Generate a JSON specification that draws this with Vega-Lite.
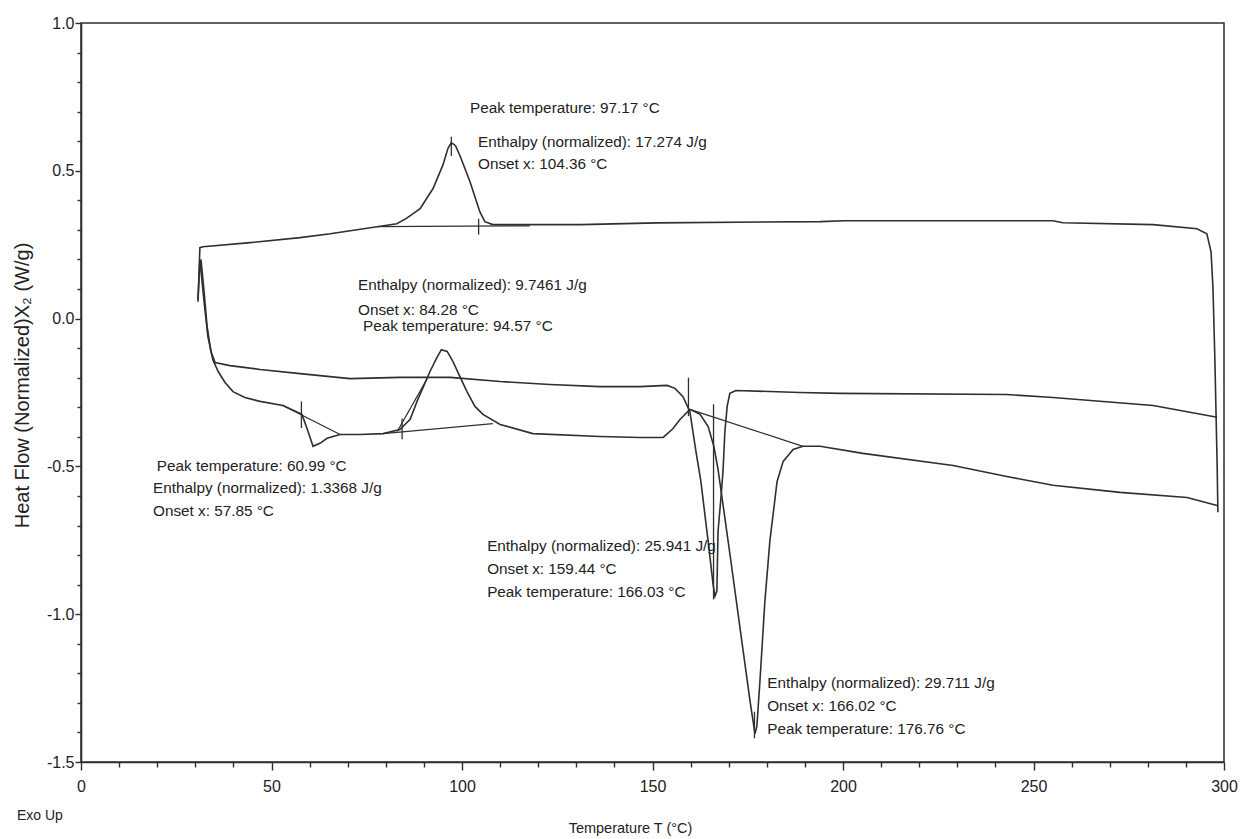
{
  "$schema": "https://vega.github.io/schema/vega-lite/v6.json",
  "width": 1143,
  "height": 739,
  "autosize": {"type": "none"},
  "padding": {"left": 81, "top": 23, "right": 16, "bottom": 77},
  "background": "white",
  "config": {
    "view": {"stroke": "#2e2e2e", "strokeWidth": 1.5},
    "font": "Liberation Sans",
    "axis": {"grid": false, "domainColor": "#2e2e2e", "domainWidth": 1.6, "tickColor": "#2e2e2e", "tickWidth": 1.4, "labelColor": "#222", "titleColor": "#222", "labelFont": "Liberation Sans", "titleFont": "Liberation Sans", "labelFontSize": 16, "labelFlush": false, "labelOverlap": false, "titleFontWeight": "normal"}
  },
  "datasets": {
    "curves": [
      {"s": "cool", "i": 1, "t": 298.4, "v": -0.655},
      {"s": "cool", "i": 2, "t": 298.2, "v": -0.497},
      {"s": "cool", "i": 3, "t": 297.6, "v": -0.135},
      {"s": "cool", "i": 4, "t": 297.1, "v": 0.105},
      {"s": "cool", "i": 5, "t": 296.6, "v": 0.226},
      {"s": "cool", "i": 6, "t": 295.5, "v": 0.287},
      {"s": "cool", "i": 7, "t": 292.9, "v": 0.304},
      {"s": "cool", "i": 8, "t": 281.4, "v": 0.318},
      {"s": "cool", "i": 9, "t": 257.7, "v": 0.324},
      {"s": "cool", "i": 10, "t": 255.1, "v": 0.331},
      {"s": "cool", "i": 11, "t": 200.5, "v": 0.331},
      {"s": "cool", "i": 12, "t": 194.0, "v": 0.328},
      {"s": "cool", "i": 13, "t": 151.2, "v": 0.324},
      {"s": "cool", "i": 14, "t": 131.0, "v": 0.318},
      {"s": "cool", "i": 15, "t": 112.6, "v": 0.318},
      {"s": "cool", "i": 16, "t": 108.1, "v": 0.318},
      {"s": "cool", "i": 17, "t": 106.0, "v": 0.328},
      {"s": "cool", "i": 18, "t": 104.7, "v": 0.361},
      {"s": "cool", "i": 19, "t": 102.1, "v": 0.463},
      {"s": "cool", "i": 20, "t": 99.5, "v": 0.55},
      {"s": "cool", "i": 21, "t": 98.3, "v": 0.585},
      {"s": "cool", "i": 22, "t": 97.2, "v": 0.595},
      {"s": "cool", "i": 23, "t": 96.3, "v": 0.575},
      {"s": "cool", "i": 24, "t": 95.0, "v": 0.52},
      {"s": "cool", "i": 25, "t": 92.4, "v": 0.44},
      {"s": "cool", "i": 26, "t": 89.0, "v": 0.372},
      {"s": "cool", "i": 27, "t": 85.5, "v": 0.34},
      {"s": "cool", "i": 28, "t": 82.9, "v": 0.321},
      {"s": "cool", "i": 29, "t": 77.7, "v": 0.311},
      {"s": "cool", "i": 30, "t": 65.4, "v": 0.287},
      {"s": "cool", "i": 31, "t": 57.5, "v": 0.274},
      {"s": "cool", "i": 32, "t": 44.4, "v": 0.257},
      {"s": "cool", "i": 33, "t": 32.0, "v": 0.243},
      {"s": "cool", "i": 34, "t": 31.2, "v": 0.24},
      {"s": "cool", "i": 35, "t": 31.0, "v": 0.159},
      {"s": "cool", "i": 36, "t": 30.7, "v": 0.064},

      {"s": "h1", "i": 1, "t": 30.7, "v": 0.057},
      {"s": "h1", "i": 2, "t": 31.2, "v": 0.2},
      {"s": "h1", "i": 3, "t": 32.3, "v": 0.057},
      {"s": "h1", "i": 4, "t": 33.3, "v": -0.061},
      {"s": "h1", "i": 5, "t": 34.6, "v": -0.139},
      {"s": "h1", "i": 6, "t": 36.0, "v": -0.179},
      {"s": "h1", "i": 7, "t": 37.8, "v": -0.216},
      {"s": "h1", "i": 8, "t": 39.9, "v": -0.247},
      {"s": "h1", "i": 9, "t": 43.0, "v": -0.267},
      {"s": "h1", "i": 10, "t": 47.0, "v": -0.28},
      {"s": "h1", "i": 11, "t": 53.0, "v": -0.294},
      {"s": "h1", "i": 12, "t": 58.0, "v": -0.324},
      {"s": "h1", "i": 13, "t": 59.6, "v": -0.382},
      {"s": "h1", "i": 14, "t": 60.9, "v": -0.432},
      {"s": "h1", "i": 15, "t": 62.7, "v": -0.422},
      {"s": "h1", "i": 16, "t": 64.6, "v": -0.405},
      {"s": "h1", "i": 17, "t": 68.0, "v": -0.392},
      {"s": "h1", "i": 18, "t": 73.2, "v": -0.392},
      {"s": "h1", "i": 19, "t": 79.3, "v": -0.389},
      {"s": "h1", "i": 20, "t": 83.7, "v": -0.375},
      {"s": "h1", "i": 21, "t": 86.4, "v": -0.341},
      {"s": "h1", "i": 22, "t": 88.2, "v": -0.28},
      {"s": "h1", "i": 23, "t": 91.6, "v": -0.179},
      {"s": "h1", "i": 24, "t": 93.4, "v": -0.132},
      {"s": "h1", "i": 25, "t": 94.6, "v": -0.105},
      {"s": "h1", "i": 26, "t": 96.1, "v": -0.111},
      {"s": "h1", "i": 27, "t": 97.6, "v": -0.145},
      {"s": "h1", "i": 28, "t": 101.3, "v": -0.247},
      {"s": "h1", "i": 29, "t": 103.4, "v": -0.297},
      {"s": "h1", "i": 30, "t": 105.5, "v": -0.324},
      {"s": "h1", "i": 31, "t": 110.0, "v": -0.358},
      {"s": "h1", "i": 32, "t": 118.6, "v": -0.389},
      {"s": "h1", "i": 33, "t": 136.2, "v": -0.399},
      {"s": "h1", "i": 34, "t": 146.7, "v": -0.402},
      {"s": "h1", "i": 35, "t": 152.8, "v": -0.402},
      {"s": "h1", "i": 36, "t": 155.4, "v": -0.372},
      {"s": "h1", "i": 37, "t": 157.2, "v": -0.341},
      {"s": "h1", "i": 38, "t": 159.8, "v": -0.307},
      {"s": "h1", "i": 39, "t": 162.5, "v": -0.324},
      {"s": "h1", "i": 40, "t": 164.6, "v": -0.365},
      {"s": "h1", "i": 41, "t": 166.1, "v": -0.432},
      {"s": "h1", "i": 42, "t": 167.2, "v": -0.51},
      {"s": "h1", "i": 43, "t": 168.2, "v": -0.601},
      {"s": "h1", "i": 44, "t": 170.4, "v": -0.804},
      {"s": "h1", "i": 45, "t": 173.0, "v": -1.05},
      {"s": "h1", "i": 46, "t": 175.6, "v": -1.294},
      {"s": "h1", "i": 47, "t": 176.9, "v": -1.405},
      {"s": "h1", "i": 48, "t": 177.4, "v": -1.378},
      {"s": "h1", "i": 49, "t": 178.2, "v": -1.226},
      {"s": "h1", "i": 50, "t": 179.5, "v": -0.956},
      {"s": "h1", "i": 51, "t": 180.8, "v": -0.753},
      {"s": "h1", "i": 52, "t": 182.7, "v": -0.551},
      {"s": "h1", "i": 53, "t": 184.3, "v": -0.483},
      {"s": "h1", "i": 54, "t": 186.9, "v": -0.443},
      {"s": "h1", "i": 55, "t": 189.5, "v": -0.432},
      {"s": "h1", "i": 56, "t": 194.0, "v": -0.432},
      {"s": "h1", "i": 57, "t": 205.2, "v": -0.456},
      {"s": "h1", "i": 58, "t": 228.9, "v": -0.497},
      {"s": "h1", "i": 59, "t": 243.0, "v": -0.534},
      {"s": "h1", "i": 60, "t": 255.1, "v": -0.564},
      {"s": "h1", "i": 61, "t": 272.7, "v": -0.588},
      {"s": "h1", "i": 62, "t": 290.3, "v": -0.605},
      {"s": "h1", "i": 63, "t": 298.2, "v": -0.632},

      {"s": "h2", "i": 1, "t": 31.5, "v": 0.2},
      {"s": "h2", "i": 2, "t": 32.3, "v": 0.091},
      {"s": "h2", "i": 3, "t": 33.1, "v": -0.027},
      {"s": "h2", "i": 4, "t": 34.1, "v": -0.111},
      {"s": "h2", "i": 5, "t": 35.2, "v": -0.149},
      {"s": "h2", "i": 6, "t": 39.1, "v": -0.159},
      {"s": "h2", "i": 7, "t": 47.0, "v": -0.172},
      {"s": "h2", "i": 8, "t": 57.5, "v": -0.186},
      {"s": "h2", "i": 9, "t": 70.6, "v": -0.203},
      {"s": "h2", "i": 10, "t": 83.7, "v": -0.199},
      {"s": "h2", "i": 11, "t": 96.9, "v": -0.199},
      {"s": "h2", "i": 12, "t": 110.0, "v": -0.213},
      {"s": "h2", "i": 13, "t": 123.1, "v": -0.223},
      {"s": "h2", "i": 14, "t": 136.2, "v": -0.23},
      {"s": "h2", "i": 15, "t": 146.7, "v": -0.23},
      {"s": "h2", "i": 16, "t": 153.8, "v": -0.226},
      {"s": "h2", "i": 17, "t": 155.9, "v": -0.236},
      {"s": "h2", "i": 18, "t": 158.0, "v": -0.264},
      {"s": "h2", "i": 19, "t": 159.8, "v": -0.314},
      {"s": "h2", "i": 20, "t": 161.4, "v": -0.449},
      {"s": "h2", "i": 21, "t": 162.7, "v": -0.551},
      {"s": "h2", "i": 22, "t": 164.6, "v": -0.753},
      {"s": "h2", "i": 23, "t": 165.9, "v": -0.899},
      {"s": "h2", "i": 24, "t": 166.4, "v": -0.939},
      {"s": "h2", "i": 25, "t": 166.9, "v": -0.922},
      {"s": "h2", "i": 26, "t": 167.2, "v": -0.72},
      {"s": "h2", "i": 27, "t": 168.0, "v": -0.601},
      {"s": "h2", "i": 28, "t": 168.5, "v": -0.517},
      {"s": "h2", "i": 29, "t": 169.0, "v": -0.382},
      {"s": "h2", "i": 30, "t": 169.6, "v": -0.297},
      {"s": "h2", "i": 31, "t": 170.3, "v": -0.253},
      {"s": "h2", "i": 32, "t": 171.9, "v": -0.243},
      {"s": "h2", "i": 33, "t": 188.7, "v": -0.25},
      {"s": "h2", "i": 34, "t": 199.2, "v": -0.253},
      {"s": "h2", "i": 35, "t": 243.0, "v": -0.257},
      {"s": "h2", "i": 36, "t": 255.1, "v": -0.267},
      {"s": "h2", "i": 37, "t": 281.4, "v": -0.294},
      {"s": "h2", "i": 38, "t": 298.2, "v": -0.334}
    ],
    "marks": [
      {"g": "a1", "t": 77.7, "v": 0.311}, {"g": "a1", "t": 117.8, "v": 0.314},
      {"g": "a2", "t": 97.2, "v": 0.55}, {"g": "a2", "t": 97.2, "v": 0.615},
      {"g": "a3", "t": 104.36, "v": 0.284}, {"g": "a3", "t": 104.36, "v": 0.338},
      {"g": "a4", "t": 53.0, "v": -0.294}, {"g": "a4", "t": 68.0, "v": -0.392},
      {"g": "a5", "t": 57.85, "v": -0.28}, {"g": "a5", "t": 57.85, "v": -0.37},
      {"g": "a6", "t": 79.3, "v": -0.389}, {"g": "a6", "t": 108.1, "v": -0.355},
      {"g": "a7", "t": 84.28, "v": -0.338}, {"g": "a7", "t": 84.28, "v": -0.408},
      {"g": "a8", "t": 83.0, "v": -0.382}, {"g": "a8", "t": 91.0, "v": -0.2},
      {"g": "a9", "t": 159.44, "v": -0.2}, {"g": "a9", "t": 159.44, "v": -0.33},
      {"g": "a10", "t": 159.8, "v": -0.307}, {"g": "a10", "t": 189.5, "v": -0.432},
      {"g": "a11", "t": 166.02, "v": -0.29}, {"g": "a11", "t": 166.02, "v": -0.95},
      {"g": "a12", "t": 176.76, "v": -1.33}, {"g": "a12", "t": 176.76, "v": -1.42}
    ],
    "labels": [
      {"t": 102.1, "v": 0.713, "text": "Peak temperature: 97.17 °C"},
      {"t": 104.2, "v": 0.598, "text": "Enthalpy (normalized): 17.274 J/g"},
      {"t": 104.2, "v": 0.524, "text": "Onset x: 104.36 °C"},
      {"t": 72.7, "v": 0.115, "text": "Enthalpy (normalized): 9.7461 J/g"},
      {"t": 72.7, "v": 0.03, "text": "Onset x: 84.28 °C"},
      {"t": 74.0, "v": -0.025, "text": "Peak temperature: 94.57 °C"},
      {"t": 19.9, "v": -0.5, "text": "Peak temperature: 60.99 °C"},
      {"t": 18.9, "v": -0.574, "text": "Enthalpy (normalized): 1.3368 J/g"},
      {"t": 18.9, "v": -0.652, "text": "Onset x: 57.85 °C"},
      {"t": 106.6, "v": -0.77, "text": "Enthalpy (normalized): 25.941 J/g"},
      {"t": 106.6, "v": -0.848, "text": "Onset x: 159.44 °C"},
      {"t": 106.6, "v": -0.926, "text": "Peak temperature: 166.03 °C"},
      {"t": 180.1, "v": -1.233, "text": "Enthalpy (normalized): 29.711 J/g"},
      {"t": 180.1, "v": -1.311, "text": "Onset x: 166.02 °C"},
      {"t": 180.1, "v": -1.389, "text": "Peak temperature: 176.76 °C"}
    ],
    "corner": [
      {"t": -16.8, "v": -1.682, "text": "Exo Up"}
    ]
  },
  "layer": [
    {
      "data": {"name": "curves"},
      "mark": {"type": "line", "color": "#2f2f2f", "strokeWidth": 1.6, "clip": false},
      "encoding": {
        "x": {
          "field": "t", "type": "quantitative",
          "scale": {"domain": [0, 300], "nice": false, "zero": false},
          "axis": {
            "title": "Temperature T (°C)",
            "titleFontSize": 14.5,
            "titleX": 549, "titleY": 66, "titleAlign": "center", "titleBaseline": "middle",
            "values": [0,10,20,30,40,50,60,70,80,90,100,110,120,130,140,150,160,170,180,190,200,210,220,230,240,250,260,270,280,290,300],
            "tickCount": 200,
            "labelExpr": "datum.value % 50 === 0 ? datum.label : ''",
            "labelOverlap": false,
            "labelFlush": false,
            "tickSize": {"condition": {"test": "datum.value % 50 === 0", "value": 8}, "value": 5},
            "labelPadding": 8
          }
        },
        "y": {
          "field": "v", "type": "quantitative",
          "scale": {"domain": [-1.5, 1.0], "nice": false, "zero": false},
          "axis": {
            "title": "Heat Flow (Normalized)X₂ (W/g)",
            "titleFontSize": 20,
            "titleX": -59, "titleY": 362, "titleAngle": 270, "titleAlign": "center", "titleBaseline": "middle",
            "values": [-1.5,-1.4,-1.3,-1.2,-1.1,-1.0,-0.9,-0.8,-0.7,-0.6,-0.5,-0.4,-0.3,-0.2,-0.1,0,0.1,0.2,0.3,0.4,0.5,0.6,0.7,0.8,0.9,1.0],
            "tickCount": 200,
            "labelExpr": "abs(round(datum.value*10)) % 5 === 0 ? (datum.value < 0 ? '-' : '') + format(abs(datum.value), '.1f') : ''",
            "labelOverlap": false,
            "labelFlush": false,
            "tickSize": {"condition": {"test": "abs(round(datum.value*10)) % 5 === 0", "value": 6}, "value": 4},
            "labelPadding": 1
          }
        },
        "detail": {"field": "s"},
        "order": {"field": "i"}
      }
    },
    {
      "data": {"name": "marks"},
      "mark": {"type": "line", "color": "#2f2f2f", "strokeWidth": 1.3},
      "encoding": {
        "x": {"field": "t", "type": "quantitative", "scale": {"domain": [0, 300], "nice": false, "zero": false}},
        "y": {"field": "v", "type": "quantitative", "scale": {"domain": [-1.5, 1.0], "nice": false, "zero": false}},
        "detail": {"field": "g"}
      }
    },
    {
      "data": {"name": "labels"},
      "mark": {"type": "text", "align": "left", "baseline": "middle", "fontSize": 15.3, "font": "Liberation Sans", "color": "#222"},
      "encoding": {
        "x": {"field": "t", "type": "quantitative", "scale": {"domain": [0, 300], "nice": false, "zero": false}},
        "y": {"field": "v", "type": "quantitative", "scale": {"domain": [-1.5, 1.0], "nice": false, "zero": false}},
        "text": {"field": "text"}
      }
    },
    {
      "data": {"name": "corner"},
      "mark": {"type": "text", "align": "left", "baseline": "middle", "fontSize": 14, "font": "Liberation Sans", "color": "#222"},
      "encoding": {
        "x": {"field": "t", "type": "quantitative", "scale": {"domain": [0, 300], "nice": false, "zero": false}},
        "y": {"field": "v", "type": "quantitative", "scale": {"domain": [-1.5, 1.0], "nice": false, "zero": false}},
        "text": {"field": "text"}
      }
    }
  ]
}
